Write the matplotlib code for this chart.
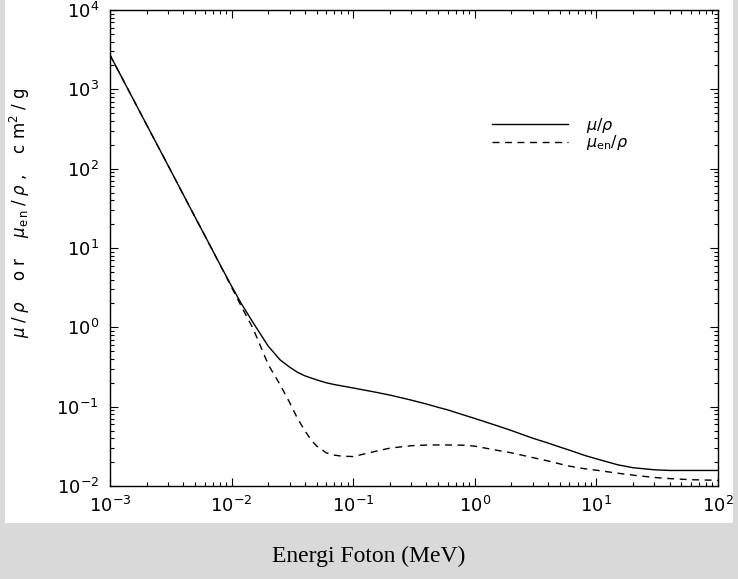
import matplotlib
matplotlib.use("Agg")
import matplotlib.pyplot as plt
from matplotlib.patches import Rectangle
from matplotlib.ticker import LogLocator, NullFormatter

# Photon energy (MeV)
energy = [0.001, 0.0015, 0.002, 0.003, 0.004, 0.005, 0.006, 0.008, 0.01,
          0.012, 0.015, 0.02, 0.025, 0.03, 0.035, 0.04, 0.045, 0.05, 0.06,
          0.07, 0.08, 0.1, 0.15, 0.2, 0.3, 0.4, 0.5, 0.6, 0.8, 1, 1.5, 2,
          3, 4, 5, 6, 8, 10, 15, 20, 30, 40, 60, 100]

# mass attenuation coefficient mu/rho (cm^2/g)
mu_rho = [2710, 829, 358, 110, 47.3, 24.6, 14.5, 6.26, 3.3,
          2.0, 1.15, 0.58, 0.39, 0.315, 0.27, 0.245, 0.23, 0.218, 0.200,
          0.19, 0.183, 0.172, 0.153, 0.140, 0.121, 0.108, 0.098, 0.091, 0.079, 0.071, 0.058, 0.050,
          0.040, 0.0348, 0.031, 0.0283, 0.0243, 0.022, 0.0185, 0.0170, 0.0160, 0.0157, 0.0157, 0.0157]

# mass energy-absorption coefficient mu_en/rho (cm^2/g)
mu_en_rho = [2710, 829, 358, 110, 47.3, 24.6, 14.5, 6.2, 3.2,
             1.85, 0.97, 0.34, 0.19, 0.113, 0.07, 0.05, 0.038, 0.032, 0.0262,
             0.0245, 0.0238, 0.0235, 0.0272, 0.030, 0.0322, 0.0328, 0.0329, 0.0329, 0.0327, 0.0318, 0.0283, 0.0262,
             0.0228, 0.0207, 0.0190, 0.0178, 0.0165, 0.0158, 0.0145, 0.0137, 0.0128, 0.0124, 0.0120, 0.0118]

W, H = 738, 579
fig = plt.figure(figsize=(W / 100, H / 100), dpi=100)
fig.patch.set_facecolor("#d9d9d9")
fig.patches.append(Rectangle((5 / W, 1 - 523 / H), 728 / W, 523 / H,
                             transform=fig.transFigure, facecolor="white",
                             edgecolor="none", zorder=-10))

ax = fig.add_axes([110 / W, 1 - 486 / H, 608 / W, 476 / H])
ax.set_zorder(5)
ax.set_facecolor("white")
ax.plot(energy, mu_rho, color="black", lw=1.0, label=r"$\mu/\rho$")
ax.plot(energy, mu_en_rho, color="black", lw=1.0, dashes=(5, 4),
        label=r"$\mu_{\rm en}/\rho$")
ax.set_xscale("log")
ax.set_yscale("log")
ax.set_xlim(1e-3, 1e2)
ax.set_ylim(1e-2, 1e4)

for s in ax.spines.values():
    s.set_linewidth(1.0)
ax.xaxis.set_minor_locator(LogLocator(base=10, subs=range(2, 10), numticks=100))
ax.yaxis.set_minor_locator(LogLocator(base=10, subs=range(2, 10), numticks=100))
ax.xaxis.set_minor_formatter(NullFormatter())
ax.yaxis.set_minor_formatter(NullFormatter())
ax.tick_params(which="both", direction="in", top=True, right=True,
               labelsize=13, width=0.8)
ax.tick_params(which="major", length=6)
ax.tick_params(axis="x", which="major", pad=7)
ax.tick_params(axis="y", which="major", pad=8)
ax.tick_params(which="minor", length=3)

leg = ax.legend(loc="upper left", bbox_to_anchor=(0.617, 0.791), frameon=False,
                handlelength=4.8, fontsize=11.5, labelspacing=-0.1,
                handletextpad=1.1, borderaxespad=0)

fig.text(20 / W, 1 - 213 / H,
         r"$\mu\;/\;\rho$    o r    $\mu_{\rm e\,n}\;/\;\rho$ ,    c m$^2$ / g",
         rotation=90, ha="center", va="center", fontsize=12)

fig.text(369 / W, 1 - 556 / H, "Energi Foton (MeV)", ha="center", va="center",
         fontsize=17, family="Liberation Serif")

fig.savefig("out.png", dpi=100, facecolor=fig.get_facecolor())
